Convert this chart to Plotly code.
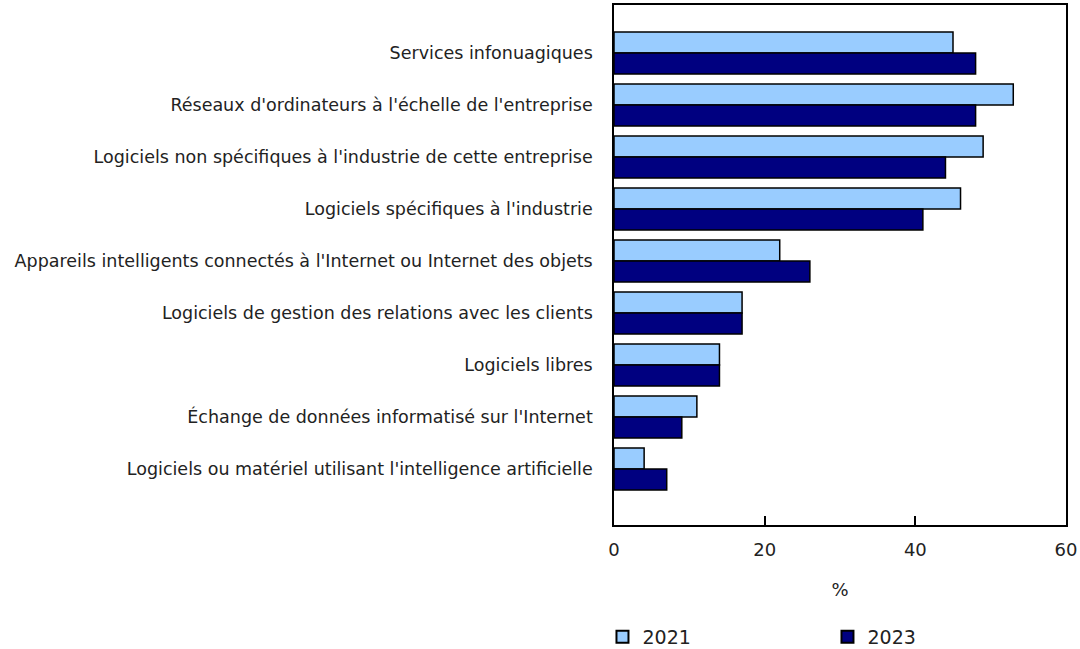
import plotly.graph_objects as go

categories = [
    "Services infonuagiques",
    "Réseaux d'ordinateurs à l'échelle de l'entreprise",
    "Logiciels non spécifiques à l'industrie de cette entreprise",
    "Logiciels spécifiques à l'industrie",
    "Appareils intelligents connectés à l'Internet ou Internet des objets",
    "Logiciels de gestion des relations avec les clients",
    "Logiciels libres",
    "Échange de données informatisé sur l'Internet",
    "Logiciels ou matériel utilisant l'intelligence artificielle",
]
values_2021 = [45, 53, 49, 46, 22, 17, 14, 11, 4]
values_2023 = [48, 48, 44, 41, 26, 17, 14, 9, 7]
x_ticks = [0, 20, 40, 60]

FONT = "Verdana, DejaVu Sans, sans-serif"

fig = go.Figure()
fig.add_trace(go.Bar(
    name="2021", y=categories, x=values_2021, orientation="h",
    marker=dict(color="#99CCFF", line=dict(color="#000000", width=1.5)),
))
fig.add_trace(go.Bar(
    name="2023", y=categories, x=values_2023, orientation="h",
    marker=dict(color="#000080", line=dict(color="#000000", width=1.5)),
))

fig.update_layout(
    width=1080, height=649,
    margin=dict(l=614, r=14, t=5, b=124, autoexpand=False),
    paper_bgcolor="white", plot_bgcolor="white",
    barmode="group", bargap=0.19, bargroupgap=0,
    font=dict(family=FONT, size=17.5, color="#222222"),
    showlegend=True,
    legend=dict(
        orientation="h", x=-0.0255, xanchor="left", y=-0.2154, yanchor="middle",
        font=dict(size=19, family=FONT), entrywidth=180, entrywidthmode="pixels",
        itemsizing="constant", traceorder="normal",
    ),
    xaxis=dict(
        range=[0, 60], tickvals=x_ticks, ticks="inside", ticklen=9,
        tickcolor="#000000", tickwidth=1.5,
        showline=True, linecolor="#000000", linewidth=1.5, mirror=True,
        showgrid=False, zeroline=False,
        tickfont=dict(size=18, family=FONT), ticklabelstandoff=8,
        title=dict(text="%", font=dict(size=18, family=FONT), standoff=24),
    ),
    yaxis=dict(
        type="category", categoryorder="array", categoryarray=categories,
        range=[9.077, -0.923],
        showline=True, linecolor="#000000", linewidth=1.5, mirror=True,
        showgrid=False, ticks="", tickfont=dict(size=17.5, family=FONT),
        ticklabelstandoff=16,
    ),
)

fig.write_html(
    "out.html",
    config={"displayModeBar": False},
    post_script="document.body.style.margin='0';document.body.style.overflow='hidden';",
)
